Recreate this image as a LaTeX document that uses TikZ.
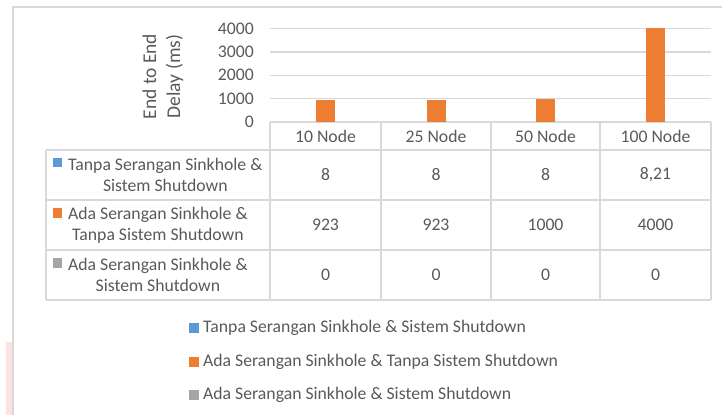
\documentclass[tikz,border=0pt]{standalone}
\usepackage{fontspec}
\setmainfont{Carlito}
\usetikzlibrary{positioning}

\definecolor{seriesblue}{HTML}{5B9BD5}
\definecolor{seriesorange}{HTML}{ED7D31}
\definecolor{seriesgray}{HTML}{A5A5A5}
\definecolor{textgray}{HTML}{595959}
\definecolor{linegray}{HTML}{D9D9D9}
\definecolor{smear}{HTML}{FDE2E2}

\tikzset{
    lbl/.style={text=textgray, font=\fontsize{17.7}{21}\selectfont, inner sep=0pt},
    cellline/.style={draw=linegray, line width=1.3pt},
    keybox/.style={minimum size=9.5pt, inner sep=0pt},
}

\begin{document}
\begin{tikzpicture}[x=1pt,y=-1pt]
    \useasboundingbox (0,0) rectangle (722,415);

    % chart frame (and the pink smear on the left)
    \fill[smear] (6,342) rectangle (12,415);
    \draw[cellline] (13,415) -- (13,7) -- (722,7);

    % draw grid
    \foreach \v in {1000,2000,3000,4000}
        \draw[cellline] (270,{122-\v*0.023375}) -- (711,{122-\v*0.023375});

    % tick labels
    \foreach \v in {0,1000,2000,3000,4000}
        \node[lbl, anchor=east] (tick\v) at (254,{122-\v*0.023375}) {\v};

    % axis title
    \node[lbl, rotate=90, align=center, font=\fontsize{19.5}{24}\selectfont] (ytitle) at (163,76.5) {End to End\\Delay (ms)};

    % table lines
    \draw[cellline] (270,122) -- (711,122);
    \foreach \y in {150,200,250,300}
        \draw[cellline] (46,\y) -- (711,\y);
    \foreach \x in {270,381,491,600,711}
        \draw[cellline] (\x,122) -- (\x,300);
    \draw[cellline] (46,150) -- (46,300);

    % bars, headers and values
    \foreach \x/\cat/\a/\b/\c [count=\i] in {325.5/10 Node/8/923/0, 436/25 Node/8/923/0,
            545.5/50 Node/8/1000/0, 655.5/100 Node/{8,21}/4000/0} {
        \fill[seriesorange] (\x-9.5,122) rectangle (\x+9.5,{122-\b*0.023375});
        \node[lbl] (head\i) at (\x,136) {\cat};
        \node[lbl] (vala\i) at (\x,175) {\a};
        \node[lbl] (valb\i) at (\x,225) {\b};
        \node[lbl] (valc\i) at (\x,275) {\c};
    }

    % row labels with colour keys
    \foreach \y/\col/\txt [count=\i] in {174.5/seriesblue/{Tanpa Serangan Sinkhole \&\\Sistem Shutdown},
            225/seriesorange/{Ada Serangan Sinkhole \&\\Tanpa Sistem Shutdown},
            275/seriesgray/{Ada Serangan Sinkhole \&\\Sistem Shutdown}} {
        \node[lbl, anchor=west, align=center] (row\i) at (68,\y) {\txt};
        \node[keybox, fill=\col] (rowkey\i) at (57.5,\y-12) {};
    }

    % legend
    \foreach \y/\col/\txt [count=\i] in {328/seriesblue/Tanpa Serangan Sinkhole \& Sistem Shutdown,
            362/seriesorange/Ada Serangan Sinkhole \& Tanpa Sistem Shutdown,
            395/seriesgray/Ada Serangan Sinkhole \& Sistem Shutdown} {
        \node[keybox, fill=\col] (legkey\i) at (194,\y) {};
        \node[lbl, anchor=west] (leg\i) at (203,\y) {\txt};
    }
\end{tikzpicture}
\end{document}
